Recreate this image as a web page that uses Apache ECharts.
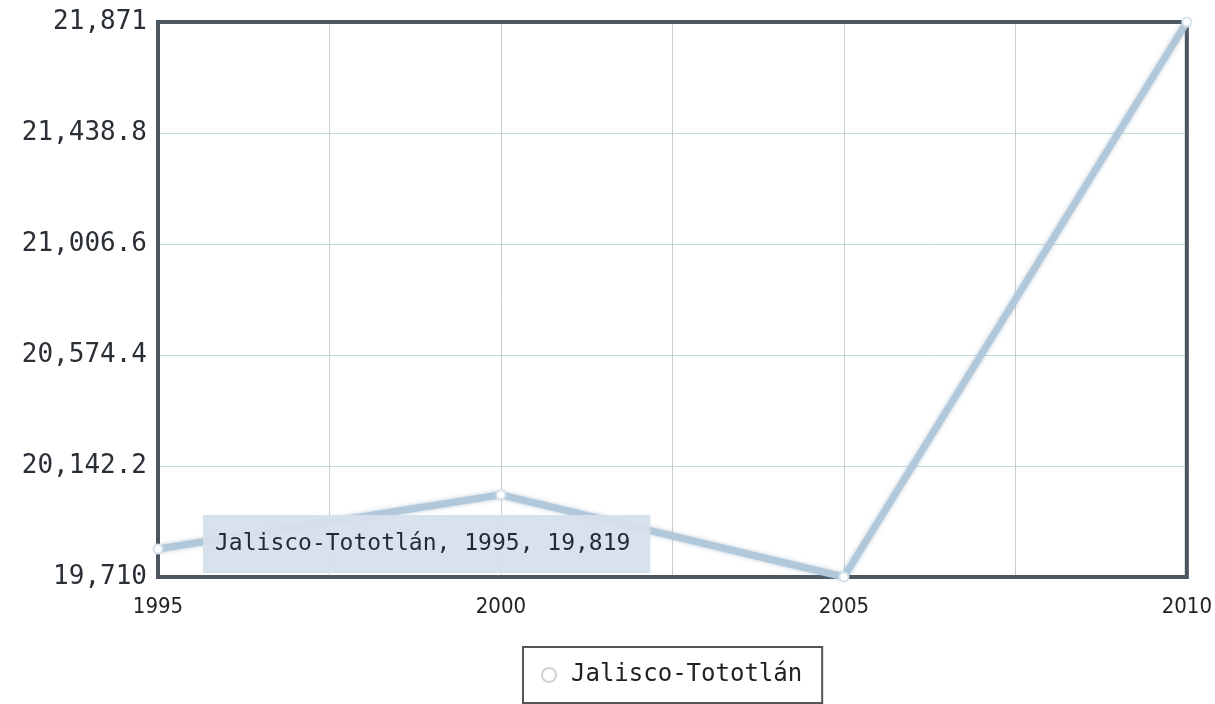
<!DOCTYPE html>
<html>
<head>
<meta charset="utf-8">
<script src="https://cdn.jsdelivr.net/npm/echarts@6/dist/echarts.min.js"></script>
<style>
html, body { margin: 0; padding: 0; background: #fff; }
#main { width: 1215px; height: 704px; }
</style>
</head>
<body>
<div id="main"></div>
<script>
// data
var seriesName = 'Jalisco-Tototlán';
var years = [1995, 2000, 2005, 2010];
var values = [19819, 20030, 19710, 21871];
var yMin = 19710, yMax = 21871;
var tipIndex = 0;

var myChart = echarts.init(document.getElementById('main'));

function fmt(v) {
    return v.toLocaleString('en-US', { maximumFractionDigits: 1 });
}

var option = {
    animation: false,
    grid: {
        left: 158, right: 27, top: 22, bottom: 127,
        show: true, borderColor: '#4b5661', borderWidth: 0, backgroundColor: '#fff'
    },
    xAxis: {
        type: 'value', min: 1995, max: 2010, interval: 2.5,
        axisLine: { show: false },
        axisTick: { show: false },
        splitLine: { show: true, lineStyle: { color: '#c9cfd2', width: 1 } },
        axisLabel: {
            margin: 19,
            fontFamily: 'DejaVu Sans Condensed, Liberation Sans Narrow, sans-serif',
            fontSize: 22, color: '#222',
            formatter: function (v) { return v % 5 === 0 ? String(v) : ''; }
        }
    },
    yAxis: {
        type: 'value', min: yMin, max: yMax, interval: (yMax - yMin) / 5,
        axisLine: { show: false },
        axisTick: { show: false },
        splitLine: { show: true, lineStyle: { color: '#bfdcd9', width: 1 } },
        axisLabel: {
            margin: 11,
            fontFamily: 'DejaVu Sans Mono, monospace',
            fontSize: 26, color: '#2a2f35',
            formatter: function (v) { return fmt(Math.round(v * 10) / 10); }
        }
    },
    legend: {
        bottom: 1, left: 523,
        padding: [16, 20, 16, 18],
        borderColor: '#555', borderWidth: 2,
        itemWidth: 14, itemHeight: 14, itemGap: 10,
        icon: 'circle',
        textStyle: { fontFamily: 'DejaVu Sans Mono, monospace', fontSize: 24, color: '#222', padding: [0, 0, 0, 10] },
        data: [{ name: seriesName, itemStyle: { color: '#fff', borderColor: '#ccd3d8', borderWidth: 2 } }]
    },
    series: [{
        name: seriesName,
        type: 'line',
        data: years.map(function (y, i) { return [y, values[i]]; }),
        symbol: 'circle', symbolSize: 9,
        itemStyle: { color: '#fff', borderColor: '#d4e2ec', borderWidth: 2 },
        lineStyle: { color: '#b0c8da', width: 7, shadowColor: 'rgba(120,150,175,0.5)', shadowBlur: 4 },
        z: 3
    }]
};

myChart.setOption(option);

// frame and static tip box as in the picture
var p0 = myChart.convertToPixel({ gridIndex: 0 }, [1995, yMax]);
var p1 = myChart.convertToPixel({ gridIndex: 0 }, [2010, yMin]);
var p = myChart.convertToPixel({ gridIndex: 0 }, [years[tipIndex], values[tipIndex]]);
myChart.setOption({
    graphic: [{
        type: 'rect', z: 2,
        shape: { x: p0[0], y: p0[1], width: p1[0] - p0[0], height: p1[1] - p0[1] },
        style: { fill: null, stroke: '#4b5661', lineWidth: 4 }
    }, {
        type: 'text',
        left: p[0] + 45, top: 515, z: 10,
        style: {
            text: seriesName + ', ' + years[tipIndex] + ', ' + fmt(values[tipIndex]),
            fontFamily: 'DejaVu Sans Mono, monospace', fontSize: 23, fill: '#1f2a36',
            backgroundColor: 'rgba(214,224,236,0.95)',
            padding: [18, 20, 17, 12]
        }
    }]
});
</script>
</body>
</html>
